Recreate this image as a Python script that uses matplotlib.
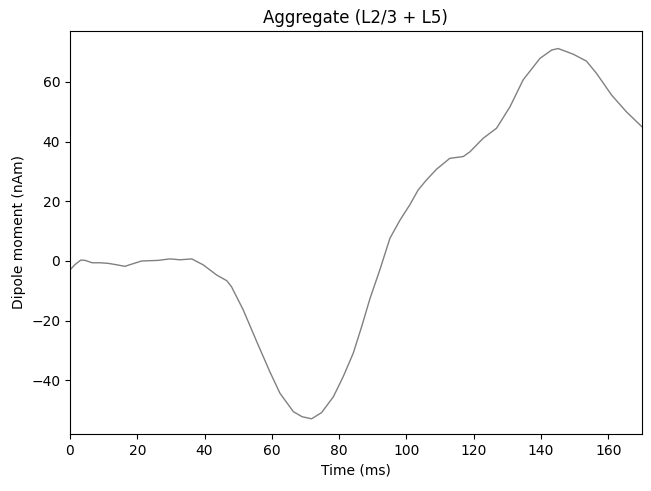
import matplotlib
matplotlib.use("Agg")
import matplotlib.pyplot as plt

# values
times = [0.0, 1.5, 3.2, 4.5, 6.6, 9.0, 11.4, 14.0, 16.3, 18.5, 21.3, 26.2, 29.7,
         32.7, 36.2, 39.6, 43.6, 46.6, 48.0, 51.5, 55.5, 59.4, 62.4, 66.4, 69.0,
         71.8, 74.8, 78.3, 81.2, 84.2, 86.7, 89.2, 92.1, 95.1, 98.1, 101.0, 103.5,
         106.0, 109.0, 112.9, 116.9, 118.9, 122.8, 126.8, 130.8, 134.7, 139.7,
         143.2, 145.1, 149.6, 153.5, 156.5, 161.0, 165.4, 170.0]
dipole = [-3.0, -1.2, 0.3, 0.2, -0.6, -0.6, -0.8, -1.3, -1.8, -1.0, 0.0, 0.2, 0.7,
          0.4, 0.7, -1.3, -4.7, -6.6, -8.6, -16.4, -27.0, -37.1, -44.3, -50.5, -52.2,
          -52.9, -50.8, -45.5, -38.8, -30.9, -22.0, -12.5, -3.0, 7.6, 13.7, 18.8, 23.8,
          27.2, 30.8, 34.4, 35.0, 36.6, 41.1, 44.5, 51.7, 60.7, 67.9,
          70.7, 71.2, 69.3, 67.0, 62.9, 55.6, 50.0, 45.0]

fig, ax = plt.subplots(figsize=(6.51, 4.91), dpi=100)
fig.subplots_adjust(left=0.1075, right=0.986, bottom=0.116, top=0.937)

ax.plot(times, dipole, color="gray", linewidth=1)
ax.set_xlim(0, 170)
ax.set_ylim(-58, 77.1)
ax.set_xlabel("Time (ms)")
ax.set_ylabel("Dipole moment (nAm)")
ax.set_title("Aggregate (L2/3 + L5)")

fig.savefig("out.png", dpi=100)
